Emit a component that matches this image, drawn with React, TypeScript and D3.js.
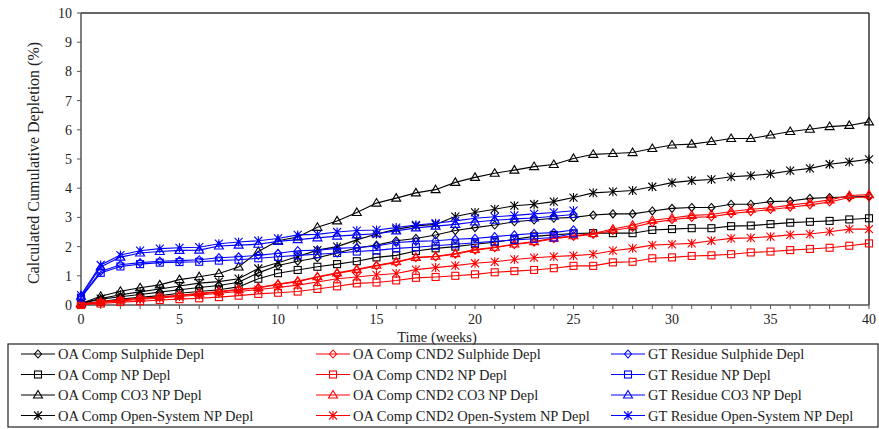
import React from 'react'
import * as d3 from 'd3'

// weeks 0..40 (GT Residue stops at week 25)
const weeks = d3.range(0, 41)
const weeksGT = d3.range(0, 26)

const oaSulphide = [0.05, 0.2, 0.28, 0.36, 0.44, 0.52, 0.6, 0.67, 0.78, 1.1, 1.35, 1.5, 1.62, 1.78, 1.95, 2.05, 2.2, 2.28, 2.4, 2.55, 2.65, 2.74, 2.85, 2.91, 2.97, 3.0, 3.08, 3.12, 3.12, 3.22, 3.31, 3.34, 3.34, 3.45, 3.45, 3.54, 3.56, 3.65, 3.68, 3.7, 3.72]
const oaNP = [0.03, 0.12, 0.2, 0.26, 0.32, 0.4, 0.46, 0.52, 0.62, 0.9, 1.09, 1.2, 1.31, 1.4, 1.5, 1.63, 1.7, 1.85, 1.94, 2.0, 2.08, 2.15, 2.25, 2.35, 2.4, 2.45, 2.46, 2.46, 2.46, 2.57, 2.6, 2.63, 2.63, 2.7, 2.72, 2.77, 2.82, 2.85, 2.88, 2.93, 2.97]
const oaCO3 = [0.05, 0.3, 0.47, 0.59, 0.69, 0.87, 0.97, 1.08, 1.3, 1.83, 2.2, 2.33, 2.66, 2.88, 3.17, 3.49, 3.66, 3.84, 3.95, 4.2, 4.37, 4.51, 4.62, 4.74, 4.81, 5.02, 5.16, 5.19, 5.22, 5.36, 5.48, 5.51, 5.6, 5.7, 5.7, 5.82, 5.94, 6.02, 6.11, 6.15, 6.27]
const oaOpen = [0.05, 0.22, 0.35, 0.45, 0.55, 0.65, 0.75, 0.8, 0.9, 1.25, 1.45, 1.66, 1.88, 2.0, 2.23, 2.43, 2.59, 2.71, 2.76, 3.03, 3.17, 3.28, 3.4, 3.45, 3.54, 3.68, 3.84, 3.88, 3.92, 4.05, 4.19, 4.26, 4.3, 4.39, 4.43, 4.49, 4.6, 4.68, 4.82, 4.9, 4.99]

const cndSulphide = [0.02, 0.1, 0.17, 0.22, 0.27, 0.32, 0.38, 0.44, 0.52, 0.58, 0.7, 0.8, 0.95, 1.08, 1.2, 1.34, 1.46, 1.62, 1.65, 1.74, 1.88, 1.96, 2.07, 2.15, 2.27, 2.35, 2.42, 2.55, 2.66, 2.82, 2.92, 3.0, 3.02, 3.13, 3.2, 3.27, 3.35, 3.43, 3.53, 3.68, 3.7]
const cndNP = [0.0, 0.05, 0.1, 0.13, 0.17, 0.2, 0.23, 0.27, 0.32, 0.38, 0.42, 0.46, 0.55, 0.64, 0.74, 0.77, 0.84, 0.93, 0.96, 1.0, 1.05, 1.12, 1.16, 1.2, 1.26, 1.34, 1.34, 1.46, 1.48, 1.6, 1.63, 1.68, 1.7, 1.74, 1.8, 1.83, 1.88, 1.92, 1.96, 2.03, 2.11]
const cndCO3 = [0.03, 0.11, 0.18, 0.23, 0.28, 0.33, 0.4, 0.46, 0.54, 0.6, 0.72, 0.82, 0.97, 1.1, 1.22, 1.36, 1.48, 1.63, 1.67, 1.76, 1.9, 1.98, 2.09, 2.17, 2.29, 2.37, 2.45, 2.6, 2.73, 2.9, 2.98, 3.07, 3.1, 3.2, 3.28, 3.33, 3.42, 3.5, 3.6, 3.75, 3.78]
const cndOpen = [0.02, 0.08, 0.14, 0.19, 0.24, 0.29, 0.34, 0.4, 0.46, 0.53, 0.6, 0.68, 0.79, 0.9, 0.96, 1.03, 1.08, 1.21, 1.28, 1.35, 1.43, 1.48, 1.56, 1.62, 1.66, 1.69, 1.74, 1.86, 1.94, 2.05, 2.08, 2.11, 2.2, 2.28, 2.3, 2.34, 2.4, 2.43, 2.51, 2.6, 2.6]

const gtSulphide = [0.28, 1.15, 1.38, 1.45, 1.5, 1.52, 1.55, 1.62, 1.65, 1.7, 1.77, 1.86, 1.88, 1.94, 1.97, 2.02, 2.14, 2.18, 2.2, 2.25, 2.28, 2.34, 2.4, 2.45, 2.48, 2.57]
const gtNP = [0.25, 1.1, 1.32, 1.4, 1.45, 1.47, 1.48, 1.52, 1.55, 1.6, 1.65, 1.7, 1.74, 1.78, 1.83, 1.87, 1.94, 1.98, 2.03, 2.08, 2.13, 2.18, 2.23, 2.27, 2.31, 2.45]
const gtCO3 = [0.3, 1.3, 1.64, 1.78, 1.83, 1.87, 1.88, 2.02, 2.05, 2.08, 2.18, 2.24, 2.3, 2.36, 2.4, 2.44, 2.54, 2.64, 2.7, 2.76, 2.84, 2.9, 2.95, 2.98, 3.04, 3.1]
const gtOpen = [0.34, 1.37, 1.71, 1.86, 1.93, 1.96, 1.98, 2.1, 2.16, 2.2, 2.28, 2.4, 2.42, 2.5, 2.55, 2.57, 2.65, 2.74, 2.8, 2.88, 2.97, 3.02, 3.07, 3.12, 3.17, 3.23]

const yTicks = [0, 1, 2, 3, 4, 5, 6, 7, 8, 9, 10]
const xLabels = [0, 5, 10, 15, 20, 25, 30, 35, 40]

type Shape = 'diamond' | 'square' | 'triangle' | 'star'

const series: { name: string; color: string; shape: Shape; x: number[]; y: number[] }[] = [
  { name: 'OA Comp Sulphide Depl', color: '#000000', shape: 'diamond', x: weeks, y: oaSulphide },
  { name: 'OA Comp NP Depl', color: '#000000', shape: 'square', x: weeks, y: oaNP },
  { name: 'OA Comp CO3 NP Depl', color: '#000000', shape: 'triangle', x: weeks, y: oaCO3 },
  { name: 'OA Comp Open-System NP Depl', color: '#000000', shape: 'star', x: weeks, y: oaOpen },
  { name: 'OA Comp CND2 Sulphide Depl', color: '#ff0000', shape: 'diamond', x: weeks, y: cndSulphide },
  { name: 'OA Comp CND2 NP Depl', color: '#ff0000', shape: 'square', x: weeks, y: cndNP },
  { name: 'OA Comp CND2 CO3 NP Depl', color: '#ff0000', shape: 'triangle', x: weeks, y: cndCO3 },
  { name: 'OA Comp CND2 Open-System NP Depl', color: '#ff0000', shape: 'star', x: weeks, y: cndOpen },
  { name: 'GT Residue Sulphide Depl', color: '#0000ff', shape: 'diamond', x: weeksGT, y: gtSulphide },
  { name: 'GT Residue NP Depl', color: '#0000ff', shape: 'square', x: weeksGT, y: gtNP },
  { name: 'GT Residue CO3 NP Depl', color: '#0000ff', shape: 'triangle', x: weeksGT, y: gtCO3 },
  { name: 'GT Residue Open-System NP Depl', color: '#0000ff', shape: 'star', x: weeksGT, y: gtOpen },
]

const FONT = 'Liberation Serif, DejaVu Serif, serif'

const Marker = ({ shape, cx, cy, color }: { shape: Shape; cx: number; cy: number; color: string }) => {
  const common = { fill: 'none', stroke: color, strokeWidth: 1.1 }
  if (shape === 'diamond') {
    return <path d={`M${cx},${cy - 4}L${cx + 3.5},${cy}L${cx},${cy + 4}L${cx - 3.5},${cy}Z`} {...common} />
  }
  if (shape === 'square') {
    return <rect x={cx - 3.5} y={cy - 3.5} width={7} height={7} {...common} />
  }
  if (shape === 'triangle') {
    return <path d={`M${cx},${cy - 4.5}L${cx + 4.5},${cy + 3}L${cx - 4.5},${cy + 3}Z`} {...common} />
  }
  return (
    <path
      d={`M${cx - 4},${cy - 4}L${cx + 4},${cy + 4}M${cx + 4},${cy - 4}L${cx - 4},${cy + 4}M${cx},${cy - 4.5}L${cx},${cy + 4.5}`}
      {...common}
    />
  )
}

const App = () => {
  const width = 879
  const height = 429
  const margin = { left: 81, right: 10, top: 13, bottom: 124 }
  const plotW = width - margin.left - margin.right
  const plotH = height - margin.top - margin.bottom

  const x = d3.scaleLinear().domain([0, 40]).range([margin.left, margin.left + plotW])
  const y = d3.scaleLinear().domain([0, 10]).range([margin.top + plotH, margin.top])

  const line = d3.line<[number, number]>().x(d => x(d[0])).y(d => y(d[1]))

  const legendCols = [21, 316, 611]
  const legendRows = [354, 374.5, 395, 415.5]

  return (
    <svg width={width} height={height} style={{ position: 'absolute', left: 0, top: 0, background: '#fff' }}>
      <g fontFamily={FONT}>
        {/* frame */}
        <line x1={x(0)} x2={x(40)} y1={y(10)} y2={y(10)} stroke="#333" strokeWidth={1.5} />
        <line x1={x(40)} x2={x(40)} y1={y(10)} y2={y(0)} stroke="#333" strokeWidth={1.5} />

        {/* y axis */}
        <line x1={x(0)} x2={x(0)} y1={y(10)} y2={y(0)} stroke="#555" strokeWidth={1.5} />
        {yTicks.map(t => (
          <g key={'y' + t}>
            <line x1={x(0) - 4} x2={x(0)} y1={y(t)} y2={y(t)} stroke="#555" />
            <text x={x(0) - 9} y={y(t)} dy="0.35em" textAnchor="end" fontSize={14} fill="#222" fontFamily={FONT}>{t}</text>
          </g>
        ))}
        <text
          transform={`translate(${39},${y(5) + 4}) rotate(-90)`}
          textAnchor="middle"
          fontSize={16}
          fill="#222"
          fontFamily={FONT}
        >
          Calculated Cumulative Depletion (%)
        </text>

        {/* x axis */}
        <line x1={x(0)} x2={x(40)} y1={y(0)} y2={y(0)} stroke="#555" strokeWidth={1.5} />
        {weeks.map(t => (
          <line key={'xt' + t} x1={x(t)} x2={x(t)} y1={y(0)} y2={y(0) + 4} stroke="#555" />
        ))}
        {xLabels.map(t => (
          <text key={'xl' + t} x={x(t)} y={y(0) + 19} textAnchor="middle" fontSize={14} fill="#222" fontFamily={FONT}>{t}</text>
        ))}
        <text x={437} y={342} textAnchor="middle" fontSize={14.5} fill="#222" fontFamily={FONT}>Time (weeks)</text>

        {/* series */}
        {series.map(s => {
          const pts = s.x.map((w, i) => [w, s.y[i]] as [number, number])
          return (
            <g key={s.name}>
              <path d={line(pts) || ''} fill="none" stroke={s.color} strokeWidth={1.1} />
              {pts.map((p, i) => (
                <Marker key={i} shape={s.shape} cx={x(p[0])} cy={y(p[1])} color={s.color} />
              ))}
            </g>
          )
        })}

        {/* legend */}
        <rect x={8} y={344} width={870} height={83} fill="none" stroke="#222" strokeWidth={1.2} />
        {series.map((s, i) => {
          const col = Math.floor(i / 4)
          const row = i % 4
          const lx = legendCols[col]
          const ly = legendRows[row]
          return (
            <g key={'lg' + s.name}>
              <line x1={lx} x2={lx + 34} y1={ly} y2={ly} stroke={s.color} strokeWidth={1.1} />
              <Marker shape={s.shape} cx={lx + 17} cy={ly} color={s.color} />
              <text x={lx + 37} y={ly} dy="0.35em" fontSize={14.5} fill="#222" fontFamily={FONT}>{s.name}</text>
            </g>
          )
        })}
      </g>
    </svg>
  )
}

export default App
